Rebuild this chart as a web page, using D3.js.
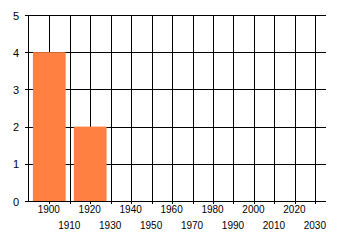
<!DOCTYPE html>
<html>
<head>
<meta charset="utf-8">
<script src="https://cdn.jsdelivr.net/npm/d3@7"></script>
<style>
  body { margin: 0; background: #fff; }
  svg text { font-family: "Liberation Sans", Arial, sans-serif; font-size: 10px; fill: #000; }
</style>
</head>
<body>
<div id="chart"></div>
<script>
// data
const years = [1900, 1920];
const values = [4, 2];
const tickYears = [1900, 1910, 1920, 1930, 1940, 1950, 1960, 1970, 1980, 1990, 2000, 2010, 2020, 2030];
const yTicks = [0, 1, 2, 3, 4, 5];

const BAR_COLOR = "#ff8040";
const width = 340;
const height = 245;
const plotLeft = 28, plotRight = 326, plotTop = 15, plotBottom = 201;

const svg = d3.select("#chart")
  .append("svg")
  .attr("width", width)
  .attr("height", height);

const x = d3.scaleLinear().domain([1889.6, 2035.2]).range([plotLeft, plotRight]);
const y = d3.scaleLinear().domain([0, 5]).range([plotBottom, plotTop]);

// grid
const grid = svg.append("g").attr("stroke", "#000").attr("stroke-width", 1).attr("shape-rendering", "crispEdges");
grid.selectAll(".hg")
  .data(yTicks)
  .enter()
  .append("line")
  .attr("x1", plotLeft - 3)
  .attr("x2", plotRight)
  .attr("y1", (d) => Math.round(y(d)) + 0.5)
  .attr("y2", (d) => Math.round(y(d)) + 0.5);
grid.selectAll(".vg")
  .data(tickYears)
  .enter()
  .append("line")
  .attr("x1", (d) => Math.round(x(d)) + 0.5)
  .attr("x2", (d) => Math.round(x(d)) + 0.5)
  .attr("y1", plotTop)
  .attr("y2", plotBottom + 3);

// bars, 16 years wide centred on the year
svg.selectAll(".bar")
  .data(years)
  .enter()
  .append("rect")
  .attr("class", "bar")
  .attr("x", (d) => x(d - 8))
  .attr("width", x(1916) - x(1900))
  .attr("y", (d, i) => y(values[i]))
  .attr("height", (d, i) => y(0) - y(values[i]))
  .attr("fill", BAR_COLOR);

// axis lines
svg.append("line")
  .attr("x1", plotLeft + 0.5).attr("x2", plotLeft + 0.5)
  .attr("y1", plotTop).attr("y2", plotBottom + 1)
  .attr("stroke", "#000").attr("shape-rendering", "crispEdges");
svg.append("line")
  .attr("x1", plotLeft).attr("x2", plotRight)
  .attr("y1", plotBottom + 0.5).attr("y2", plotBottom + 0.5)
  .attr("stroke", "#000").attr("shape-rendering", "crispEdges");

// labels
const yAxis = svg.append("g")
  .attr("transform", `translate(${plotLeft},0.5)`)
  .call(d3.axisLeft(y).tickValues(yTicks).tickSize(0).tickPadding(9).tickFormat(d3.format("d")));
yAxis.select(".domain").remove();
yAxis.selectAll("text").style("font-size", "11px");

const row1 = svg.append("g")
  .attr("transform", `translate(-1,${plotBottom})`)
  .call(d3.axisBottom(x).tickValues(tickYears.filter((d, i) => i % 2 === 0)).tickSize(0).tickPadding(5).tickFormat(d3.format("d")));
row1.select(".domain").remove();

const row2 = svg.append("g")
  .attr("transform", `translate(-1,${plotBottom})`)
  .call(d3.axisBottom(x).tickValues(tickYears.filter((d, i) => i % 2 === 1)).tickSize(0).tickPadding(21).tickFormat(d3.format("d")));
row2.select(".domain").remove();
</script>
</body>
</html>
